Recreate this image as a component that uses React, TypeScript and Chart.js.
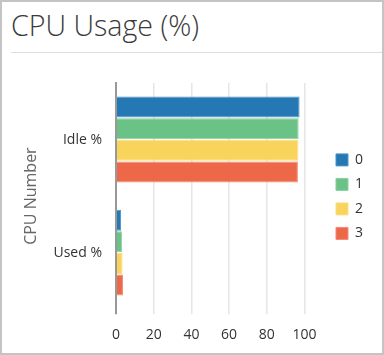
import React, { useEffect, useRef } from "react";
import { Chart, registerables } from "chart.js";

Chart.register(...registerables);

const categories = ["Idle %", "Used %"];
const seriesNames = ["0", "1", "2", "3"];
const cpu0 = [97.4, 2.7];
const cpu1 = [96.9, 3.3];
const cpu2 = [96.8, 3.5];
const cpu3 = [96.5, 3.7];
const colors = ["#2479b4", "#6bc286", "#f8d45c", "#ed6849"];
const borders = ["#4d94c4", "#8bd0a0", "#fadf83", "#f48a72"];
const xTicks = [0, 20, 40, 60, 80, 100];

const FONT = "'Open Sans', 'Noto Sans', sans-serif";
const LEGEND_EXTRA = 21;
const Y_AXIS_WIDTH = 94.6;

const legendGap = {
  id: "legendGap",
  beforeLayout(chart: any) {
    const lg = chart.legend;
    if (lg && !lg._gapPatched) {
      const f = lg.fit.bind(lg);
      lg.fit = function () {
        f();
        this.width += LEGEND_EXTRA;
      };
      lg._gapPatched = true;
    }
  },
  afterLayout(chart: any) {
    const lg = chart.legend;
    if (lg) lg.left += LEGEND_EXTRA;
  },
};

export default function App() {
  const ref = useRef<HTMLCanvasElement | null>(null);
  useEffect(() => {
    if (!ref.current) return;
    const values = [cpu0, cpu1, cpu2, cpu3];
    const chart = new Chart(ref.current, {
      type: "bar",
      plugins: [legendGap],
      data: {
        labels: categories,
        datasets: seriesNames.map((n, i) => ({
          label: n,
          data: values[i],
          backgroundColor: colors[i],
          borderColor: borders[i],
          borderWidth: 1,
          categoryPercentage: 0.765,
          barPercentage: 0.97,
        })),
      },
      options: {
        indexAxis: "y",
        animation: false,
        responsive: true,
        maintainAspectRatio: false,
        layout: { padding: { top: 27, right: 9, left: 19.4, bottom: 0 } },
        plugins: {
          legend: {
            position: "right",
            align: "start",
            title: { display: true, text: "", padding: { top: 45, bottom: 0 } },
            labels: {
              boxWidth: 12,
              boxHeight: 12,
              padding: 10.5,
              color: "#333",
              font: { family: FONT, size: 14 },
            },
          },
          tooltip: { enabled: false },
        },
        scales: {
          x: {
            min: 0,
            max: 100,
            afterBuildTicks: (axis: any) => {
              axis.ticks = xTicks.map((v) => ({ value: v }));
            },
            grid: {
              color: (ctx: any) => (ctx.index === 0 ? "#999" : "#e4e6ea"),
              lineWidth: (ctx: any) => (ctx.index === 0 ? 2 : 1.5),
              tickLength: 5,
            },
            border: { display: false },
            ticks: { color: "#333", font: { family: FONT, size: 14 }, padding: 12, maxRotation: 0 },
          },
          y: {
            afterFit: (axis: any) => {
              axis.width = Y_AXIS_WIDTH;
            },
            grid: { display: false, drawTicks: false },
            border: { display: true, color: "#999", width: 2 },
            ticks: { color: "#333", font: { family: FONT, size: 14 }, padding: 14 },
            title: {
              display: true,
              text: "CPU Number",
              color: "#666",
              font: { family: FONT, size: 16 },
              padding: { top: 0, bottom: 12 },
            },
          },
        },
      },
    });
    return () => chart.destroy();
  }, []);

  return (
    <div
      style={{
        position: "fixed",
        left: 0,
        top: 0,
        width: 384,
        height: 355,
        boxSizing: "border-box",
        border: "2px solid #c4c4c4",
        background: "#fff",
        fontFamily: FONT,
      }}
    >
      <div
        style={{
          position: "absolute",
          left: 9,
          top: 6,
          fontSize: 28.6,
          fontWeight: 300,
          color: "#3a3a3a",
          lineHeight: "34px",
          whiteSpace: "nowrap",
        }}
      >
        CPU Usage (%)
      </div>
      <div
        style={{
          position: "absolute",
          left: 9,
          right: 0,
          top: 50,
          height: 1,
          background: "#ddd",
        }}
      />
      <div style={{ position: "absolute", left: 0, top: 54, width: 380, height: 299 }}>
        <canvas ref={ref} />
      </div>
    </div>
  );
}
